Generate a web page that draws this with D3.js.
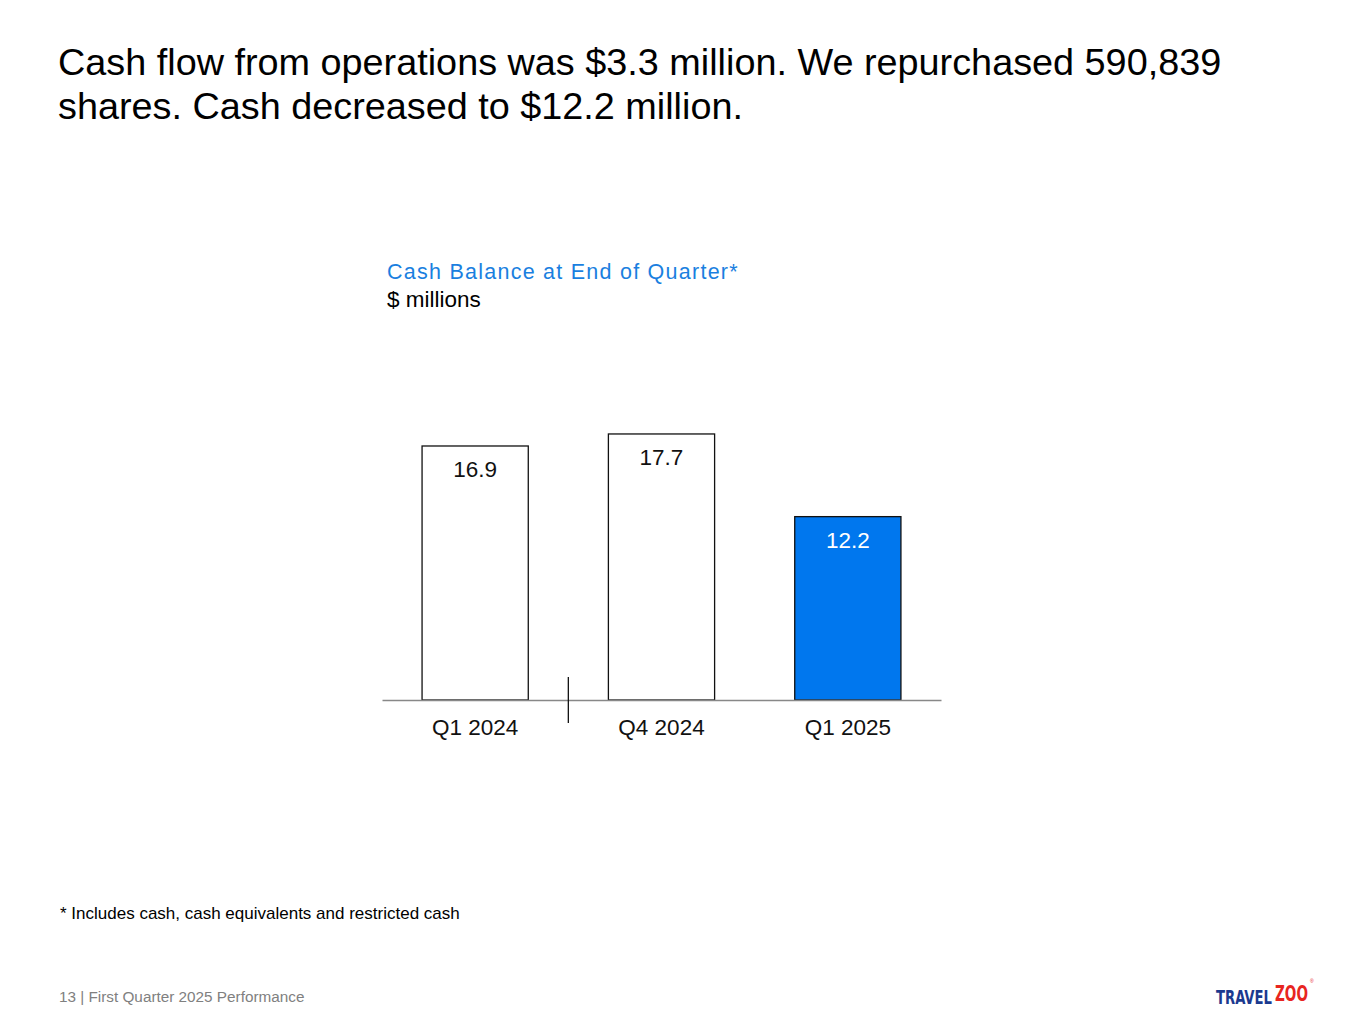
<!DOCTYPE html>
<html>
<head>
<meta charset="utf-8">
<script src="https://cdn.jsdelivr.net/npm/d3@7"></script>
<style>
	body { margin: 0; background: #fff; }
	svg text { font-family: "Liberation Sans", Arial, sans-serif; }
</style>
</head>
<body>
<svg id="chart"></svg>
<script>
	// data
	let categories = ['Q1 2024', 'Q4 2024', 'Q1 2025'];
	let cashValues = [16.9, 17.7, 12.2];
	let valueLabels = ['16.9', '17.7', '12.2'];
	let highlighted = [false, false, true];

	let width = 1365;
	let height = 1024;

	let svg = d3.select('#chart')
		.attr('width', width)
		.attr('height', height);

	// headline
	let headline = svg.append('text')
		.attr('x', 58)
		.attr('y', 75)
		.style('font-size', '37.8px')
		.style('fill', '#000');
	headline.append('tspan').attr('x', 58).text('Cash flow from operations was $3.3 million. We repurchased 590,839');
	headline.append('tspan').attr('x', 58).attr('dy', 44).text('shares. Cash decreased to $12.2 million.');

	// chart title
	svg.append('text')
		.attr('x', 387)
		.attr('y', 279)
		.style('font-size', '21.5px')
		.style('letter-spacing', '1.25px')
		.style('fill', '#1a7fe0')
		.text('Cash Balance at End of Quarter*');

	svg.append('text')
		.attr('x', 387)
		.attr('y', 307)
		.style('font-size', '22.5px')
		.style('fill', '#000')
		.text('$ millions');

	let x = d3.scaleBand()
		.domain(categories)
		.range([382, 941])
		.paddingInner(0.43)
		.paddingOuter(0.215);

	let y = d3.scaleLinear()
		.domain([0, 20])
		.range([700, 399.4]);

	let rows = categories.map(function(c, i) {
		return { cat: c, value: cashValues[i], label: valueLabels[i], hi: highlighted[i] };
	});

	let bars = svg.append('g').attr('class', 'bars');

	bars.selectAll('rect')
		.data(rows)
		.enter()
		.append('rect')
		.attr('x', function(d) { return x(d.cat); })
		.attr('y', function(d) { return y(d.value); })
		.attr('width', x.bandwidth())
		.attr('height', function(d) { return y(0) - y(d.value); })
		.style('fill', function(d) { return d.hi ? '#0077ee' : '#fff'; })
		.style('stroke', '#111')
		.style('stroke-width', 1.3);

	bars.selectAll('text')
		.data(rows)
		.enter()
		.append('text')
		.attr('x', function(d) { return x(d.cat) + x.bandwidth() / 2; })
		.attr('y', function(d) { return y(d.value) + 31; })
		.attr('text-anchor', 'middle')
		.style('font-size', '22.5px')
		.style('fill', function(d) { return d.hi ? '#fff' : '#111'; })
		.text(function(d) { return d.label; });

	// axis
	let axis = svg.append('g')
		.attr('transform', 'translate(0,' + y(0) + ')')
		.call(d3.axisBottom(x).tickSize(0).tickPadding(19));
	axis.select('.domain').style('stroke', '#888').style('stroke-width', 1.3);
	axis.selectAll('.tick text')
		.style('font-size', '22.5px')
		.style('font-family', '"Liberation Sans", Arial, sans-serif')
		.style('fill', '#111');

	// break marker between Q1 2024 and Q4 2024
	let breakX = (x(categories[0]) + x.bandwidth() + x(categories[1])) / 2;
	svg.append('line')
		.attr('x1', breakX).attr('x2', breakX)
		.attr('y1', y(0) - 23).attr('y2', y(0) + 23)
		.style('stroke', '#111')
		.style('stroke-width', 1.3);

	// footnote + footer
	svg.append('text')
		.attr('x', 60)
		.attr('y', 919)
		.style('font-size', '17px')
		.style('fill', '#000')
		.text('* Includes cash, cash equivalents and restricted cash');

	svg.append('text')
		.attr('x', 59)
		.attr('y', 1002)
		.style('font-size', '15.3px')
		.style('fill', '#808080')
		.text('13 | First Quarter 2025 Performance');

	// logo as text; each piece measured then squeezed to its width
	let logoFont = '"DejaVu Sans Condensed", "Liberation Sans Narrow", sans-serif';
	function logoPiece(txt, x0, y0, w, size, color) {
		let g = svg.append('g');
		let t = g.append('text')
			.attr('x', 0)
			.attr('y', 0)
			.style('font-size', size + 'px')
			.style('font-weight', 'bold')
			.style('font-family', logoFont)
			.style('fill', color)
			.text(txt);
		let natural = t.node().getComputedTextLength();
		g.attr('transform', 'translate(' + x0 + ',' + y0 + ') scale(' + (w / natural) + ',1)');
	}
	logoPiece('TRAVEL', 1216, 1004, 56, 20, '#1b3a8f');
	logoPiece('ZOO', 1275, 1001, 33, 22, '#e8251f');
	svg.append('text')
		.attr('x', 1310)
		.attr('y', 983)
		.style('font-size', '5px')
		.style('fill', '#e8251f')
		.text('®');
</script>
</body>
</html>
